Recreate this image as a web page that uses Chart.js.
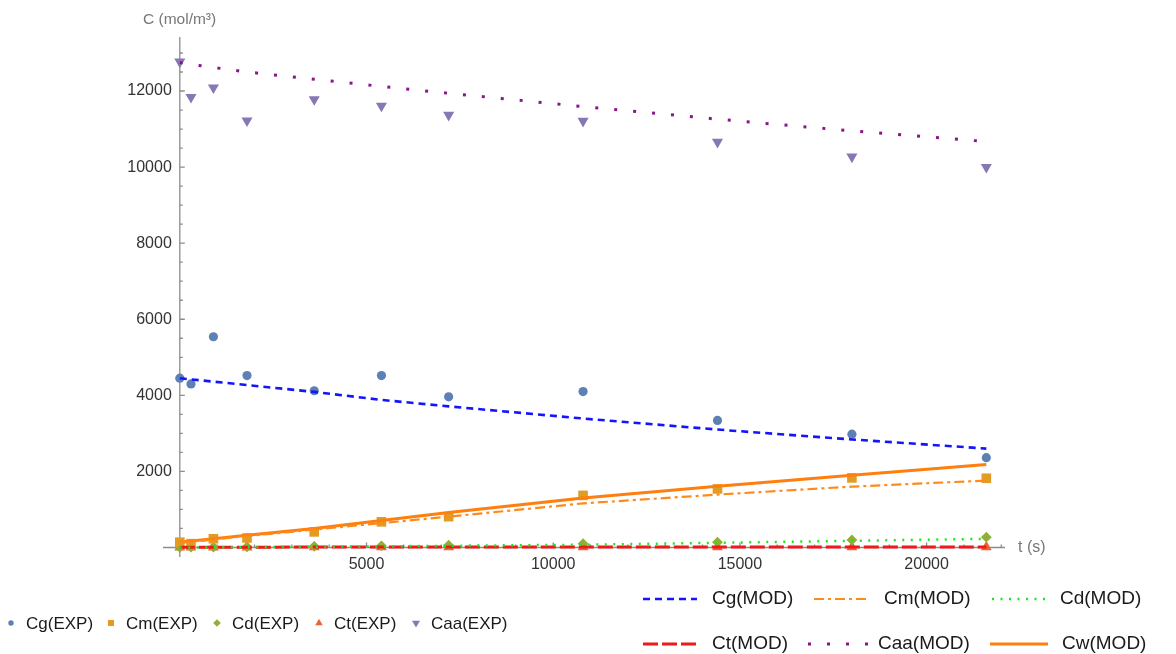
<!DOCTYPE html>
<html>
<head>
<meta charset="utf-8">
<script src="https://cdn.jsdelivr.net/npm/chart.js@4.4.1/dist/chart.umd.min.js"></script>
<style>
  html, body { margin: 0; padding: 0; background: #fff; }
  #wrap { width: 1176px; height: 654px; }
</style>
</head>
<body>
<div id="wrap"><canvas id="myChart" width="1176" height="654"></canvas></div>
<script>
'use strict';

// time points (s)
const times = [0, 300, 900, 1800, 3600, 5400, 7200, 10800, 14400, 18000, 21600];

// experimental values (mol/m3)
const cgExp = [4450, 4300, 5540, 4520, 4120, 4520, 3960, 4100, 3340, 2980, 2360];
const cmExp = [140, 100, 230, 250, 410, 675, 810, 1370, 1540, 1830, 1820];
const cdExp = [5, 8, 12, 18, 30, 45, 60, 100, 140, 200, 270];
const ctExp = [0, 2, 4, 5, 6, 8, 8, 10, 10, 12, 12];
const caaExp = [12770, 11840, 12090, 11220, 11780, 11610, 11370, 11210, 10660, 10270, 10000];

// model values
const cgMod = [4450, 4420, 4360, 4270, 4090, 3880, 3710, 3390, 3100, 2840, 2600];
const cmMod = [120, 150, 210, 300, 470, 640, 810, 1160, 1390, 1600, 1760];
const cdMod = [0, 1, 3, 8, 18, 30, 45, 72, 123, 176, 228];
const ctMod = [8, 8, 9, 9, 10, 10, 11, 12, 13, 14, 15];
const caaMod = [12750, 12700, 12620, 12500, 12310, 12120, 11940, 11590, 11260, 10950, 10670];
const cwMod = [140, 170, 230, 320, 500, 710, 920, 1300, 1610, 1900, 2180];

// axis ticks
const xTicks = [5000, 10000, 15000, 20000];
const yTicks = [2000, 4000, 6000, 8000, 10000, 12000];
const xMinorStep = 1000;
const yMinorStep = 500;

const FONT = '"Liberation Sans", Arial, sans-serif';

function pts(values) {
  return times.map((t, i) => ({ x: t, y: values[i] }));
}

function expSet(label, values, color, style, radius, rotation) {
  return {
    label: label,
    data: pts(values),
    showLine: false,
    pointStyle: style,
    pointRotation: rotation || 0,
    pointRadius: radius,
    pointBackgroundColor: color,
    pointBorderWidth: 0,
    order: 1,
    group: 'exp'
  };
}

function modSet(label, values, color, width, dash) {
  return {
    label: label,
    data: pts(values),
    showLine: true,
    borderColor: color,
    borderWidth: width,
    borderDash: dash,
    pointRadius: 0,
    tension: 0,
    order: 0,
    group: 'mod'
  };
}

const datasets = [
  expSet('Cg(EXP)', cgExp, '#5e81b5', 'circle', 4.6),
  expSet('Cm(EXP)', cmExp, '#e19c24', 'rect', 6.8),
  expSet('Cd(EXP)', cdExp, '#8fb032', 'rectRot', 5.4),
  expSet('Ct(EXP)', ctExp, '#eb6235', 'triangle', 6.2),
  expSet('Caa(EXP)', caaExp, '#8778b3', 'triangle', 6.4, 180),
  modSet('Cg(MOD)', cgMod, '#1414ff', 2.6, [7, 5]),
  modSet('Cm(MOD)', cmMod, '#ff8a1c', 2.2, [10, 4, 3, 4]),
  modSet('Cd(MOD)', cdMod, '#1ee61e', 2.5, [2, 6.5]),
  modSet('Ct(MOD)', ctMod, '#f01818', 3, [15, 4]),
  modSet('Caa(MOD)', caaMod, '#8a168a', 3, [3, 16]),
  modSet('Cw(MOD)', cwMod, '#ff7f0e', 3, [])
];

const axesPlugin = {
  id: 'axesAtZero',
  beforeDatasetsDraw(chart) {
    const { ctx, chartArea, scales: { x, y } } = chart;
    const x0 = x.getPixelForValue(0);
    const y0 = y.getPixelForValue(0);
    ctx.save();
    ctx.strokeStyle = '#8c8c8c';
    ctx.lineWidth = 1.3;
    ctx.beginPath();
    ctx.moveTo(chartArea.left, y0);
    ctx.lineTo(chartArea.right, y0);
    ctx.moveTo(x0, chartArea.top);
    ctx.lineTo(x0, chartArea.bottom);
    for (let v = xMinorStep; v <= x.max; v += xMinorStep) {
      const px = x.getPixelForValue(v);
      const len = xTicks.includes(v) ? 5 : 3;
      ctx.moveTo(px, y0);
      ctx.lineTo(px, y0 - len);
    }
    for (let v = yMinorStep; v <= y.max; v += yMinorStep) {
      const py = y.getPixelForValue(v);
      const len = yTicks.includes(v) ? 5 : 3;
      ctx.moveTo(x0, py);
      ctx.lineTo(x0 + len, py);
    }
    ctx.stroke();

    ctx.fillStyle = '#777';
    ctx.textBaseline = 'middle';
    ctx.textAlign = 'left';
    ctx.font = '15.5px ' + FONT;
    ctx.fillText('C (mol/m³)', 143, 20);
    ctx.font = '16px ' + FONT;
    ctx.fillText('t (s)', chartArea.right + 13, y0);
    ctx.restore();
  }
};

const legendPlugin = {
  id: 'bottomLegend',
  afterDraw(chart) {
    const ctx = chart.ctx;
    const all = chart.data.datasets;
    const exp = all.filter(d => d.group === 'exp');
    const mod = all.filter(d => d.group === 'mod');
    ctx.save();
    ctx.textBaseline = 'middle';
    ctx.textAlign = 'left';

    // markers row
    const expX = [11, 111, 217, 319, 416];
    const expR = [2.7, 4.3, 3.8, 4.3, 4.6];
    ctx.font = '17px ' + FONT;
    exp.forEach((d, i) => {
      ctx.fillStyle = d.pointBackgroundColor;
      Chart.helpers.drawPoint(ctx, {
        pointStyle: d.pointStyle,
        rotation: d.pointRotation,
        radius: expR[i],
        borderWidth: 0
      }, expX[i], 623);
      ctx.fillStyle = '#1a1a1a';
      ctx.fillText(d.label, expX[i] + 15, 624);
    });

    // line rows: [sample start, sample end, text x, y]
    const modPos = [
      [643, 697, 712, 599], [814, 867, 884, 599], [992, 1045, 1060, 599],
      [643, 700, 712, 644], [808, 868, 878, 644], [990, 1048, 1062, 644]
    ];
    ctx.font = '19px ' + FONT;
    mod.forEach((d, i) => {
      const p = modPos[i];
      ctx.strokeStyle = d.borderColor;
      ctx.lineWidth = d.borderWidth;
      ctx.setLineDash(d.borderDash);
      ctx.beginPath();
      ctx.moveTo(p[0], p[3]);
      ctx.lineTo(p[1], p[3]);
      ctx.stroke();
      ctx.setLineDash([]);
      ctx.fillStyle = '#1a1a1a';
      ctx.fillText(d.label, p[2], p[3]);
    });
    ctx.restore();
  }
};

const ctx = document.getElementById('myChart').getContext('2d');
new Chart(ctx, {
  type: 'scatter',
  data: { datasets: datasets },
  options: {
    responsive: false,
    animation: false,
    devicePixelRatio: 1,
    layout: { padding: { left: 163, right: 171, top: 37, bottom: 97 } },
    plugins: { legend: { display: false }, tooltip: { enabled: false } },
    scales: {
      x: {
        type: 'linear',
        min: -450,
        max: 22100,
        position: { y: 0 },
        grid: { display: false, drawTicks: false },
        border: { display: false },
        ticks: {
          font: { size: 16, family: FONT },
          color: '#333',
          padding: 8,
          maxRotation: 0,
          includeBounds: false,
          callback: v => String(v)
        },
        afterBuildTicks: s => { s.ticks = xTicks.map(v => ({ value: v })); },
        afterFit: s => { s.height = 0; }
      },
      y: {
        type: 'linear',
        min: -250,
        max: 13420,
        position: { x: -215 },
        grid: { display: false, drawTicks: false },
        border: { display: false },
        ticks: {
          font: { size: 16, family: FONT },
          color: '#333',
          includeBounds: false,
          callback: v => String(v)
        },
        afterBuildTicks: s => { s.ticks = yTicks.map(v => ({ value: v })); },
        afterFit: s => { s.width = 0; }
      }
    }
  },
  plugins: [axesPlugin, legendPlugin]
});
</script>
</body>
</html>
